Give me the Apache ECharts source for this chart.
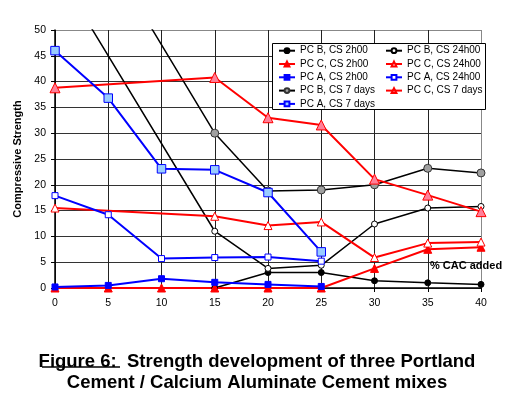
<!DOCTYPE html>
<html>
<head>
<meta charset="utf-8">
<script src="https://cdn.jsdelivr.net/npm/echarts@6/dist/echarts.min.js"></script>
<style>
  html, body { margin: 0; padding: 0; background: #fff; }
  #chart { width: 514px; height: 399px; }
</style>
</head>
<body>
<div id="chart"></div>
<script>
// % CAC added
const xs = [0, 5, 10, 15, 20, 25, 30, 35, 40]
const yTicks = [0, 5, 10, 15, 20, 25, 30, 35, 40, 45, 50]

// compressive strength, null = not measured
const pcB2h = [null, null, null, 0, 3.0, 3.0, 1.4, 1.0, 0.7]
const pcB24h = [62, null, null, 11, 3.8, 4.4, 12.4, 15.5, 15.8]
const pcC2h = [0, 0, 0, 0, 0, 0, 3.8, 7.5, 7.9]
const pcC24h = [15.5, null, null, 13.9, 12.1, 12.8, 5.9, 8.7, 8.9]
const pcA2h = [0.2, 0.5, 1.8, 1.1, 0.7, 0.3, null, null, null]
const pcA24h = [17.9, 14.2, 5.7, 5.9, 6.0, 5.2, null, null, null]
const pcB7d = [81.4, null, null, 30, 18.8, 19.0, 20, 23.2, 22.3]
const pcC7d = [38.8, null, null, 40.8, 33, 31.6, 21.1, 18, 14.8]
const pcA7d = [46, 36.8, 23.1, 22.9, 18.5, 7.0, null, null, null]

const FONT = "'Liberation Sans', Arial, sans-serif"

const toPairs = (vals) => xs.map((x, i) => [x, vals[i] == null ? '-' : vals[i]])

// 系列样式
const mk = (name, vals, color, width, symbol, size, fill, border) => ({
  name,
  type: 'line',
  data: toPairs(vals),
  connectNulls: true,
  symbol,
  symbolSize: size,
  showAllSymbol: true,
  lineStyle: { color, width },
  itemStyle: { color: fill, borderColor: border, borderWidth: 1 },
  emphasis: { disabled: true },
  z: 2
})

const series = [
  mk('PC B, CS 2h00', pcB2h, '#000', 1.5, 'circle', 6, '#000', '#000'),
  mk('PC B, CS 24h00', pcB24h, '#000', 1.5, 'circle', 6, '#fff', '#000'),
  mk('PC C, CS 2h00', pcC2h, '#ff0000', 2, 'triangle', 8, '#ff0000', '#ff0000'),
  mk('PC C, CS 24h00', pcC24h, '#ff0000', 2, 'triangle', 8, '#fff', '#ff0000'),
  mk('PC A, CS 2h00', pcA2h, '#0000ff', 2, 'rect', 6, '#0000ff', '#0000ff'),
  mk('PC A, CS 24h00', pcA24h, '#0000ff', 2, 'rect', 6, '#fff', '#0000ff'),
  mk('PC B, CS 7 days', pcB7d, '#000', 1.5, 'circle', 8, '#a0a0a0', '#333'),
  mk('PC C, CS 7 days', pcC7d, '#ff0000', 2, 'triangle', 10, '#ff8099', '#ff0000'),
  mk('PC A, CS 7 days', pcA7d, '#0000ff', 2, 'rect', 8.5, '#99ccff', '#0000ff')
]

const legendBase = {
  orient: 'vertical',
  padding: 0,
  itemWidth: 16,
  itemHeight: 6,
  itemGap: 1.3,
  selectedMode: false,
  textStyle: { fontSize: 10, fontFamily: FONT, color: '#000', lineHeight: 12 },
  z: 6
}

const chart = echarts.init(document.getElementById('chart'))
chart.setOption({
  animation: false,
  textStyle: { fontFamily: FONT },
  title: {
    text: 'Figure 6:  Strength development of three Portland\nCement / Calcium Aluminate Cement mixes',
    left: 'center',
    top: 351,
    padding: 0,
    textStyle: { fontSize: 18.5, fontWeight: 'bold', color: '#000', lineHeight: 21.3, fontFamily: FONT }
  },
  legend: [
    Object.assign({}, legendBase, {
      left: 278, top: 44.7,
      data: ['PC B, CS 2h00', 'PC C, CS 2h00', 'PC A, CS 2h00', 'PC B, CS 7 days', 'PC A, CS 7 days']
    }),
    Object.assign({}, legendBase, {
      left: 385, top: 44.7,
      data: ['PC B, CS 24h00', 'PC C, CS 24h00', 'PC A, CS 24h00', 'PC C, CS 7 days']
    })
  ],
  grid: { left: 55, right: 33, top: 30, bottom: 111 },
  xAxis: {
    type: 'value',
    min: 0, max: 40, interval: 5,
    axisLine: { lineStyle: { color: '#000', width: 1.5 } },
    axisTick: { show: true, length: 4, lineStyle: { color: '#000' } },
    axisLabel: { fontSize: 10.5, color: '#000', margin: 10 },
    splitLine: {
      show: true,
      lineStyle: { color: ['#222', '#222', '#222', '#222', '#222', '#222', '#222', '#222', '#888'], width: 1 }
    }
  },
  yAxis: {
    type: 'value',
    min: yTicks[0], max: yTicks[yTicks.length - 1], interval: 5,
    name: 'Compressive Strength',
    nameLocation: 'middle',
    nameGap: 32,
    nameTextStyle: { fontSize: 11, fontWeight: 'bold', color: '#000' },
    axisLine: { show: true, lineStyle: { color: '#000', width: 1.5 } },
    axisTick: { show: true, length: 4, lineStyle: { color: '#000' } },
    axisLabel: { fontSize: 10.5, color: '#000', margin: 9 },
    splitLine: {
      show: true,
      lineStyle: { color: ['#333', '#333', '#333', '#333', '#333', '#333', '#333', '#333', '#333', '#333', '#888'], width: 1 }
    }
  },
  graphic: [
    {
      type: 'rect',
      z: 5,
      shape: { x: 272.5, y: 43.5, width: 213, height: 66 },
      style: { fill: '#fff', stroke: '#000', lineWidth: 1 }
    },
    {
      type: 'text',
      z: 5,
      x: 430, y: 266,
      style: { text: '% CAC added', font: 'bold 11px ' + FONT, fill: '#000', textVerticalAlign: 'middle' }
    },
    {
      // 下划线 "Figure 6:"
      type: 'line',
      z: 5,
      shape: { x1: 42, y1: 367, x2: 120, y2: 367 },
      style: { stroke: '#000', lineWidth: 1.5 }
    }
  ],
  series
})
</script>
</body>
</html>
